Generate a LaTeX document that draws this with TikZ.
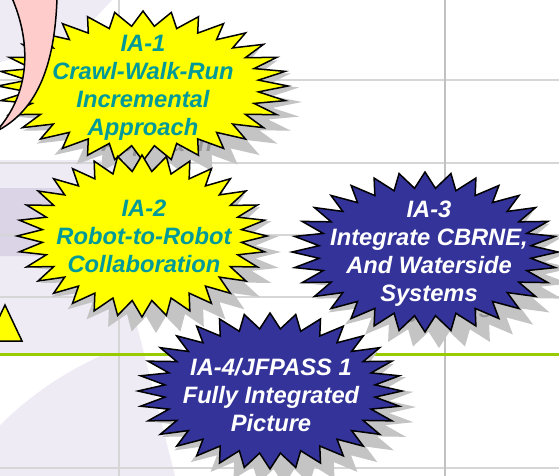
\documentclass[tikz,border=0pt]{standalone}
\usepackage{fontspec}
\setmainfont{Liberation Sans}

\definecolor{burstyellow}{RGB}{255,255,0}
\definecolor{burstteal}{RGB}{0,153,153}
\definecolor{burstnavy}{RGB}{51,51,153}
\definecolor{shadowgray}{RGB}{196,196,196}
\definecolor{shadowtext}{RGB}{150,150,150}
\definecolor{gridgray}{RGB}{214,214,214}
\definecolor{linegreen}{RGB}{153,204,0}
\definecolor{pinkfill}{RGB}{255,204,204}
\definecolor{lavender}{RGB}{238,235,245}
\definecolor{lavenderdark}{RGB}{218,212,230}

% 32-point burst: centre x, centre y, radius x, radius y
\newcommand{\burstpath}[4]{([shift={(#1,#2)}]0:#3 and #4)
  \foreach \i in {1,...,63} { -- ([shift={(#1,#2)}]\i*5.625:{#3*(1-0.2*mod(\i,2))} and {#4*(1-0.2*mod(\i,2))}) } -- cycle}

\begin{document}
\begin{tikzpicture}[x=1pt,y=-1pt,
    burst text/.style={font=\fontsize{23.7}{28}\selectfont\bfseries\itshape, align=center},
    outline/.style={draw=black, line width=1.5pt, line join=miter}]
    % Fix the frame
    \useasboundingbox (0,0) rectangle (559,476);
    \clip (0,0) rectangle (559,476);
    \fill[white] (0,0) rectangle (559,476);

    % Faded backdrop on the left
    \fill[lavender] (0,0) -- (112,0) -- (70,45) -- (0,62) -- cycle;
    \fill[lavender] (0,160) -- (115,160) -- (130,298) -- (175,476) -- (0,476) -- cycle;
    \fill[lavenderdark, rounded corners=10pt] (-10,188) rectangle (95,256);
    \fill[white] (0,356) -- (100,356) .. controls (65,372) and (30,395) .. (0,425) -- cycle;

    % Grid lines
    \foreach \y in {80,163,235,297,468}
        \draw[gridgray, line width=2pt] (0,\y) -- (559,\y);
    \draw[gridgray, line width=2pt] (119,0) -- (119,476);
    \draw[gridgray!90!black, line width=2.5pt] (445,0) -- (445,476);
    \draw[linegreen, line width=3pt] (0,354) -- (559,354);

    % IA-1 burst
    \fill[shadowgray] \burstpath{157}{102}{145}{75};
    \node[burst text, text=shadowtext] (ia1 shadow) at (157,104)
        {\phantom{IA-1}\\\phantom{Crawl-Walk-Run}\\\phantom{Incremental}\\Approach};
    \draw[outline, fill=burstyellow] \burstpath{143}{86}{145}{75};
    \node[burst text, text=burstteal] (ia1) at (143,88) {IA-1\\Crawl-Walk-Run\\Incremental\\Approach};

    % Pink balloon in the corner
    \draw[outline, fill=pinkfill] (12,-2) .. controls (28,35) and (34,85) .. (0,127)
        -- (-5,132) .. controls (40,110) and (55,60) .. (57,-2) -- cycle;

    % IA-2 burst
    \fill[shadowgray] \burstpath{156}{252}{125}{81};
    \draw[outline, fill=burstyellow] \burstpath{142}{236}{125}{81};
    \node[burst text, text=burstteal] (ia2) at (144,236) {IA-2\\Robot-to-Robot\\Collaboration};

    % Yellow triangle
    \draw[outline, fill=burstyellow] (5,305) -- (22,341) -- (-12,341) -- cycle;

    % IA-3 burst
    \fill[shadowgray] \burstpath{439}{268}{133}{80};
    \node[burst text, text=shadowtext] (ia3 shadow) at (443,270)
        {\phantom{IA-3}\\\phantom{Integrate CBRNE,}\\\phantom{And Waterside}\\Systems};
    \draw[outline, fill=burstnavy] \burstpath{425}{252}{133}{80};
    \node[burst text, text=white] (ia3) at (429,254) {IA-3\\Integrate CBRNE,\\And Waterside\\Systems};

    % IA-4 burst
    \fill[shadowgray] \burstpath{284}{407}{132}{78};
    \draw[outline, fill=burstnavy] \burstpath{270}{391}{132}{78};
    \node[burst text, text=white] (ia4) at (271,395) {IA-4/JFPASS 1\\Fully Integrated\\Picture};
\end{tikzpicture}
\end{document}
